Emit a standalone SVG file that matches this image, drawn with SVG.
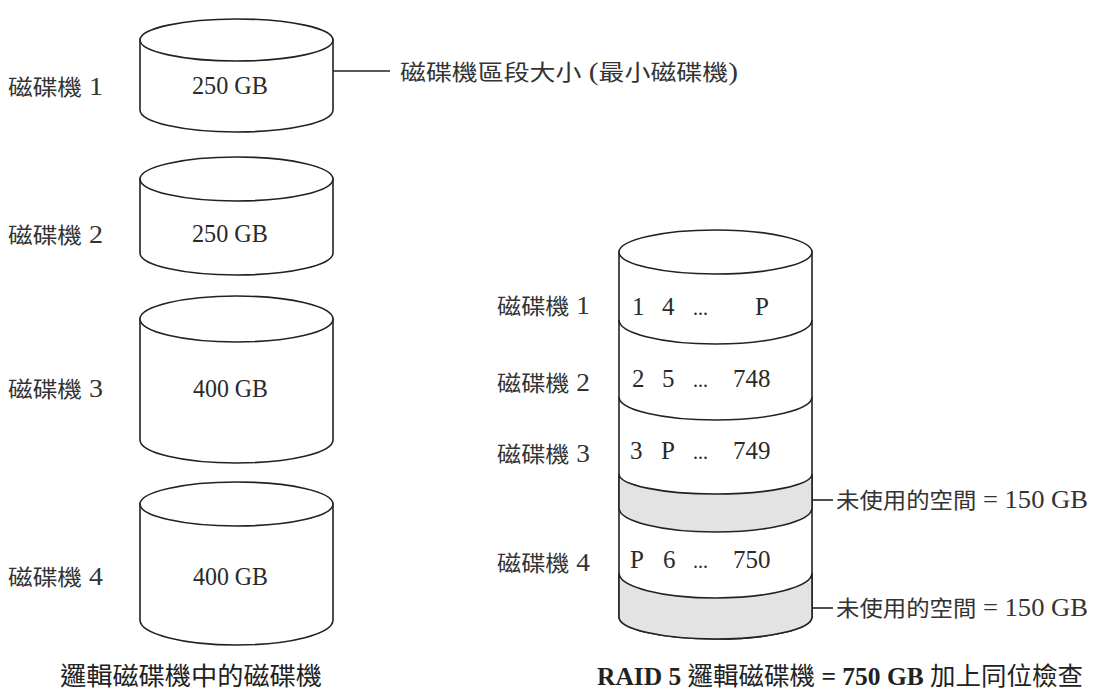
<svg xmlns="http://www.w3.org/2000/svg" width="1095" height="692" viewBox="0 0 1095 692">
<style>
.s{fill:#fff;stroke:#222;stroke-width:1.6}
.g{fill:#e3e3e3;stroke:#222;stroke-width:1.6}
.d{fill:none;stroke:#222;stroke-width:1.6}
.t{font-family:"Liberation Serif","Noto Sans CJK TC",serif;fill:#333}
.lbl{font-size:22px}
.lat{font-size:25px}
.num{font-size:25px;fill:#2a2a2a}
.cap{font-size:25px;fill:#222}
.b{font-weight:bold}
.ln{stroke:#222;stroke-width:1.6}
</style>
<rect width="1095" height="692" fill="#fff"/>

<g id="disk1">
<path class="s" d="M140,40 L140,110 A96.5,22 0 0 0 333,110 L333,40 Z"/>
<ellipse class="s" cx="236.5" cy="40" rx="96.5" ry="21"/>
<text class="t num" x="192" y="94" textLength="76" lengthAdjust="spacingAndGlyphs">250 GB</text>
</g>
<g id="disk2">
<path class="s" d="M140,179 L140,253 A96.5,22 0 0 0 333,253 L333,179 Z"/>
<ellipse class="s" cx="236.5" cy="179" rx="96.5" ry="22"/>
<text class="t num" x="192" y="242" textLength="76" lengthAdjust="spacingAndGlyphs">250 GB</text>
</g>
<g id="disk3">
<path class="s" d="M140,319 L140,440 A96.5,23 0 0 0 333,440 L333,319 Z"/>
<ellipse class="s" cx="236.5" cy="319" rx="96.5" ry="23"/>
<text class="t num" x="193" y="397" textLength="75" lengthAdjust="spacingAndGlyphs">400 GB</text>
</g>
<g id="disk4">
<path class="s" d="M140,504 L140,620 A96.5,25 0 0 0 333,620 L333,504 Z"/>
<ellipse class="s" cx="236.5" cy="504" rx="96.5" ry="22"/>
<text class="t num" x="193" y="585" textLength="75" lengthAdjust="spacingAndGlyphs">400 GB</text>
</g>

<g id="left-labels">
<text class="t lbl" x="8" y="95" textLength="95" lengthAdjust="spacingAndGlyphs">磁碟機<tspan class="lat"> 1</tspan></text>
<text class="t lbl" x="8" y="243" textLength="95" lengthAdjust="spacingAndGlyphs">磁碟機<tspan class="lat"> 2</tspan></text>
<text class="t lbl" x="8" y="397" textLength="95" lengthAdjust="spacingAndGlyphs">磁碟機<tspan class="lat"> 3</tspan></text>
<text class="t lbl" x="8" y="585" textLength="95" lengthAdjust="spacingAndGlyphs">磁碟機<tspan class="lat"> 4</tspan></text>
</g>

<g id="raid5">
<path class="s" d="M619,252 L619,617 A96.5,22 0 0 0 812,617 L812,252 Z"/>
<ellipse class="s" cx="715.5" cy="252" rx="96.5" ry="22"/>
<path class="d" d="M619,320 A96.5,24 0 0 0 812,320"/>
<path class="d" d="M619,397 A96.5,23 0 0 0 812,397"/>
<path class="g" d="M619,474 A96.5,20 0 0 0 812,474 L812,508 A96.5,24 0 0 1 619,508 Z"/>
<path class="g" d="M619,573 A96.5,25 0 0 0 812,573 L812,617 A96.5,22 0 0 1 619,617 Z"/>
<g class="t num">
<text x="632" y="315">1</text><text x="662" y="315">4</text><text x="693" y="315" font-size="20">...</text><text x="755" y="315">P</text>
<text x="632" y="387">2</text><text x="662" y="387">5</text><text x="693" y="387" font-size="20">...</text><text x="733" y="387">748</text>
<text x="630" y="459">3</text><text x="661" y="459">P</text><text x="693" y="459" font-size="20">...</text><text x="733" y="459">749</text>
<text x="630" y="568">P</text><text x="663" y="568">6</text><text x="693" y="568" font-size="20">...</text><text x="733" y="568">750</text>
</g>
</g>

<g id="right-labels">
<text class="t lbl" x="497" y="314" textLength="93" lengthAdjust="spacingAndGlyphs">磁碟機<tspan class="lat"> 1</tspan></text>
<text class="t lbl" x="497" y="391" textLength="93" lengthAdjust="spacingAndGlyphs">磁碟機<tspan class="lat"> 2</tspan></text>
<text class="t lbl" x="497" y="462" textLength="93" lengthAdjust="spacingAndGlyphs">磁碟機<tspan class="lat"> 3</tspan></text>
<text class="t lbl" x="497" y="571" textLength="93" lengthAdjust="spacingAndGlyphs">磁碟機<tspan class="lat"> 4</tspan></text>
</g>

<g id="connectors">
<line class="ln" x1="333" y1="71" x2="390" y2="71"/>
<line class="ln" x1="812" y1="500" x2="833" y2="500"/>
<line class="ln" x1="812" y1="608" x2="833" y2="608"/>
</g>

<g id="annotations">
<text class="t lbl" x="400" y="80" font-size="23" textLength="338" lengthAdjust="spacingAndGlyphs">磁碟機區段大小<tspan class="lat"> (</tspan>最小磁碟機<tspan class="lat">)</tspan></text>
<text class="t lbl" x="836" y="508" font-size="23" textLength="252" lengthAdjust="spacingAndGlyphs">未使用的空間<tspan class="lat"> = 150 GB</tspan></text>
<text class="t lbl" x="836" y="616" font-size="23" textLength="252" lengthAdjust="spacingAndGlyphs">未使用的空間<tspan class="lat"> = 150 GB</tspan></text>
</g>

<g id="captions">
<text class="t cap" x="60" y="685" textLength="262" lengthAdjust="spacingAndGlyphs">邏輯磁碟機中的磁碟機</text>
<text class="t cap" x="597" y="685" textLength="486" lengthAdjust="spacingAndGlyphs"><tspan class="b">RAID 5 </tspan>邏輯磁碟機<tspan class="b"> = 750 GB </tspan>加上同位檢查</text>
</g>
</svg>
